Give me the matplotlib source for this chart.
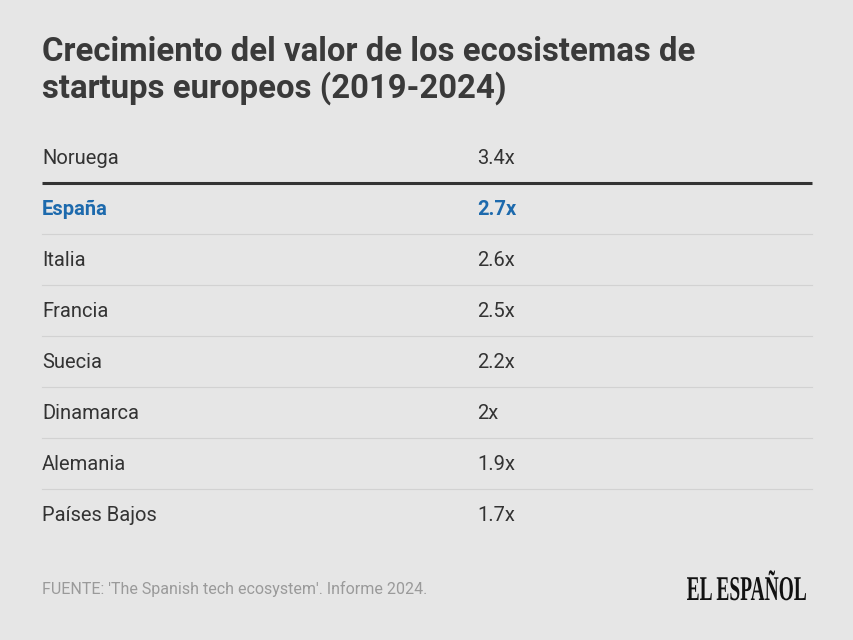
import matplotlib.pyplot as plt
from matplotlib.patheffects import AbstractPathEffect
from matplotlib.transforms import Affine2D

# datos de la tabla
paises = ['Noruega', 'España', 'Italia', 'Francia', 'Suecia', 'Dinamarca', 'Alemania', 'Países Bajos']
valores = ['3.4x', '2.7x', '2.6x', '2.5x', '2.2x', '2x', '1.9x', '1.7x']
destacado = 'España'

titulo = ['Crecimiento del valor de los ecosistemas de', 'startups europeos (2019-2024)']
fuente = "FUENTE: 'The Spanish tech ecosystem'. Informe 2024."
logo = 'EL ESPAÑOL'

bg = '#e6e6e6'
azul = '#1d6aad'
texto = '#333333'

plt.rcParams['font.family'] = ['Roboto', 'DejaVu Sans']


class Estrechar(AbstractPathEffect):
    # comprime el texto en horizontal respecto a un punto (pixeles)
    def __init__(self, sx, x0):
        super().__init__()
        self.sx = sx
        self.x0 = x0

    def draw_path(self, renderer, gc, tpath, affine, rgbFace=None):
        t = affine + Affine2D().translate(-self.x0, 0).scale(self.sx, 1).translate(self.x0, 0)
        renderer.draw_path(gc, tpath, t, rgbFace)


fig = plt.figure(figsize=(8.54, 6.4), dpi=100, facecolor=bg)
ax = fig.add_axes([0, 0, 1, 1])
ax.set_facecolor(bg)
# ejes en pixeles, y hacia abajo
ax.set_xlim(0, 854)
ax.set_ylim(640, 0)
ax.axis('off')

for linea, yb in zip(titulo, [61, 98]):
    ax.text(42, yb, linea, fontsize=23.7, fontweight='bold', color='#3a3a3a', va='baseline')

y0 = 164
paso = 51
for i, (p, v) in enumerate(zip(paises, valores)):
    y = y0 + i * paso
    col = azul if p == destacado else texto
    w = 'bold' if p == destacado else 'normal'
    ax.text(42, y, p, fontsize=14.5, color=col, fontweight=w, va='baseline')
    ax.text(477, y, v, fontsize=14.5, color=col, fontweight=w, va='baseline')
    if i < len(paises) - 1:
        ly = y + 19
        if i == 0:
            ax.plot([42, 812], [ly, ly], color='#333333', lw=2.2, solid_capstyle='butt')
        else:
            ax.plot([42, 812], [ly, ly], color='#d2d2d2', lw=0.8)

ax.text(42, 594, fuente, fontsize=11.5, color='#9a9a9a', va='baseline')
ax.text(807, 600, logo, fontsize=25, color='#111111', va='baseline', ha='right',
        family='Liberation Serif', fontweight='bold',
        path_effects=[Estrechar(0.56, 807)])

fig.savefig('out.png', dpi=100, facecolor=bg)
